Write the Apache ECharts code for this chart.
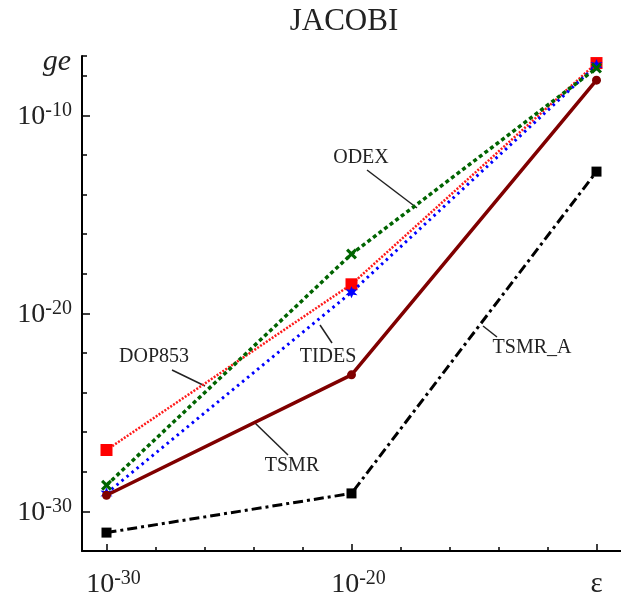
<!DOCTYPE html>
<html><head><meta charset="utf-8">
<script src="https://cdn.jsdelivr.net/npm/echarts@6/dist/echarts.min.js"></script>
<style>html,body{margin:0;padding:0;background:#fff}#c{width:621px;height:599px}</style>
</head><body><div id="c"></div>
<script>
// tolerance ε values (x) and global error ge (y)
const epsValues = [1e-30, 1e-20, 1e-10];
const dop853 = [1.26e-27, 2.95e-19, 4.4e-8];
const odex   = [2.1e-29, 1.0e-17, 2.45e-8];
const tides  = [8.1e-30, 1.17e-19, 3.47e-8];
const tsmr   = [6.5e-30, 7.9e-24, 6.0e-9];
const tsmrA  = [8.5e-32, 8.1e-30, 1.45e-13];
const seriesNames = ['DOP853', 'ODEX', 'TIDES', 'TSMR', 'TSMR_A'];
// tick positions (log10) and labels
const xMajorTicks = [-30, -20, -10];
const xTickLabels = [['10', '-30'], ['10', '-20'], ['ε', '']];
const xMinorTicks = [-28, -26, -24, -22, -18, -16, -14, -12];
const yMajorTicks = [-30, -20, -10];
const yTickLabels = [['10', '-30'], ['10', '-20'], ['10', '-10']];
const yMinorTicks = [-28, -26, -24, -22, -18, -16, -14, -12, -8, -7];
const titleText = 'JACOBI';
const yName = 'ge';

const FONT = 'Liberation Serif';
const toPts = arr => arr.map((v, i) => [Math.log10(epsValues[i]), Math.log10(v)]);

function labelFmt(ticks, labels, pre) {
  return v => {
    const i = ticks.indexOf(Math.round(v));
    if (i < 0) return '';
    const l = labels[i];
    if (!l[1]) return '{e|' + l[0] + '}';
    return '{' + pre + '|' + l[0] + '}{s|' + l[1] + '}';
  };
}
const rich = {
  b: { fontFamily: FONT, fontSize: 28, color: '#222', lineHeight: 30, verticalAlign: 'bottom' },
  bx: { fontFamily: FONT, fontSize: 28, color: '#222', lineHeight: 30, verticalAlign: 'bottom', padding: [0, 0, 0, 14] },
  s: { fontFamily: FONT, fontSize: 20, color: '#222', lineHeight: 18, verticalAlign: 'top' },
  e: { fontFamily: FONT, fontSize: 29, color: '#222', lineHeight: 30, verticalAlign: 'bottom' }
};

const xPath = 'path://M0,2 L2,0 L5,3 L8,0 L10,2 L7,5 L10,8 L8,10 L5,7 L2,10 L0,8 L3,5 Z';
const starPath = 'path://M5,0 L6.2,3 L9.5,2.5 L7.3,5 L9.5,7.5 L6.2,7 L5,10 L3.8,7 L0.5,7.5 L2.7,5 L0.5,2.5 L3.8,3 Z';

const chart = echarts.init(document.getElementById('c'), null, { renderer: 'canvas' });
const axisCommon = { type: 'value', splitLine: { show: false } };
chart.setOption({
  animation: false,
  backgroundColor: '#fff',
  title: { text: titleText, left: 339, top: 1, textAlign: 'center',
    textStyle: { fontFamily: FONT, fontSize: 31, fontWeight: 'normal', color: '#222' } },
  grid: { left: 82, top: 56, right: -4, bottom: 48, containLabel: false },
  xAxis: [
    Object.assign({}, axisCommon, {
      min: -31, max: -9, position: 'bottom',
      axisLine: { show: true, onZero: false, lineStyle: { color: '#000', width: 2 } },
      axisTick: { show: true, inside: true, length: 7, customValues: xMajorTicks, lineStyle: { color: '#000', width: 1.5 } },
      axisLabel: { show: true, margin: 18, customValues: xMajorTicks, formatter: labelFmt(xMajorTicks, xTickLabels, 'bx'), rich: rich }
    }),
    Object.assign({}, axisCommon, {
      min: -31, max: -9, position: 'bottom',
      axisLine: { show: false, onZero: false },
      axisTick: { show: true, inside: true, length: 4, customValues: xMinorTicks, lineStyle: { color: '#000', width: 1.5 } },
      axisLabel: { show: false }
    })
  ],
  yAxis: [
    Object.assign({}, axisCommon, {
      min: -32, max: -7, position: 'left',
      axisLine: { show: true, onZero: false, lineStyle: { color: '#000', width: 2 } },
      axisTick: { show: true, inside: true, length: 8, customValues: yMajorTicks, lineStyle: { color: '#000', width: 1.5 } },
      axisLabel: { show: true, margin: 10, customValues: yMajorTicks, formatter: labelFmt(yMajorTicks, yTickLabels, 'b'), rich: rich }
    }),
    Object.assign({}, axisCommon, {
      min: -32, max: -7, position: 'left',
      axisLine: { show: false, onZero: false },
      axisTick: { show: true, inside: true, length: 5, customValues: yMinorTicks, lineStyle: { color: '#000', width: 1.5 } },
      axisLabel: { show: false }
    })
  ],
  series: [
    { name: seriesNames[0], type: 'line', data: toPts(dop853), z: 3,
      lineStyle: { color: '#ff1a1a', width: 2.5, type: [2, 1.5] },
      symbol: 'rect', symbolSize: 12, itemStyle: { color: '#ff0000' } },
    { name: seriesNames[2], type: 'line', data: toPts(tides), z: 4,
      lineStyle: { color: '#0000ff', width: 3, type: [2.5, 4] },
      symbol: starPath, symbolSize: 12, itemStyle: { color: '#0000ff' } },
    { name: seriesNames[1], type: 'line', data: toPts(odex), z: 5,
      lineStyle: { color: '#006400', width: 3.5, type: [4, 3] },
      symbol: xPath, symbolSize: 11, itemStyle: { color: '#006400' } },
    { name: seriesNames[3], type: 'line', data: toPts(tsmr), z: 6,
      lineStyle: { color: '#800000', width: 3.5 },
      symbol: 'circle', symbolSize: 9, itemStyle: { color: '#800000' } },
    { name: seriesNames[4], type: 'line', data: toPts(tsmrA), z: 6,
      lineStyle: { color: '#000', width: 3, type: [10, 4, 3, 4] },
      symbol: 'rect', symbolSize: 10, itemStyle: { color: '#000' } }
  ],
  graphic: [
    { type: 'text', x: 71, y: 62, style: { text: yName, font: 'italic 30px "Liberation Serif"', fill: '#222', align: 'right', verticalAlign: 'middle' } },
    { type: 'text', x: 361, y: 158, style: { text: seriesNames[1], font: '20px "Liberation Serif"', fill: '#222', align: 'center', verticalAlign: 'middle' } },
    { type: 'text', x: 154, y: 357, style: { text: seriesNames[0], font: '20px "Liberation Serif"', fill: '#222', align: 'center', verticalAlign: 'middle' } },
    { type: 'text', x: 328, y: 357, style: { text: seriesNames[2], font: '20px "Liberation Serif"', fill: '#222', align: 'center', verticalAlign: 'middle' } },
    { type: 'text', x: 292, y: 466, style: { text: seriesNames[3], font: '20px "Liberation Serif"', fill: '#222', align: 'center', verticalAlign: 'middle' } },
    { type: 'text', x: 532, y: 348, style: { text: seriesNames[4], font: '20px "Liberation Serif"', fill: '#222', align: 'center', verticalAlign: 'middle' } },
    { type: 'line', shape: { x1: 367, y1: 170, x2: 417, y2: 208 }, style: { stroke: '#222', lineWidth: 1.5 } },
    { type: 'line', shape: { x1: 172, y1: 370, x2: 205, y2: 386 }, style: { stroke: '#222', lineWidth: 1.5 } },
    { type: 'line', shape: { x1: 320, y1: 325, x2: 332, y2: 343 }, style: { stroke: '#222', lineWidth: 1.5 } },
    { type: 'line', shape: { x1: 255, y1: 423, x2: 288, y2: 455 }, style: { stroke: '#222', lineWidth: 1.5 } },
    { type: 'line', shape: { x1: 497, y1: 337, x2: 483, y2: 326 }, style: { stroke: '#222', lineWidth: 1.5 } }
  ]
});
</script>
</body></html>
